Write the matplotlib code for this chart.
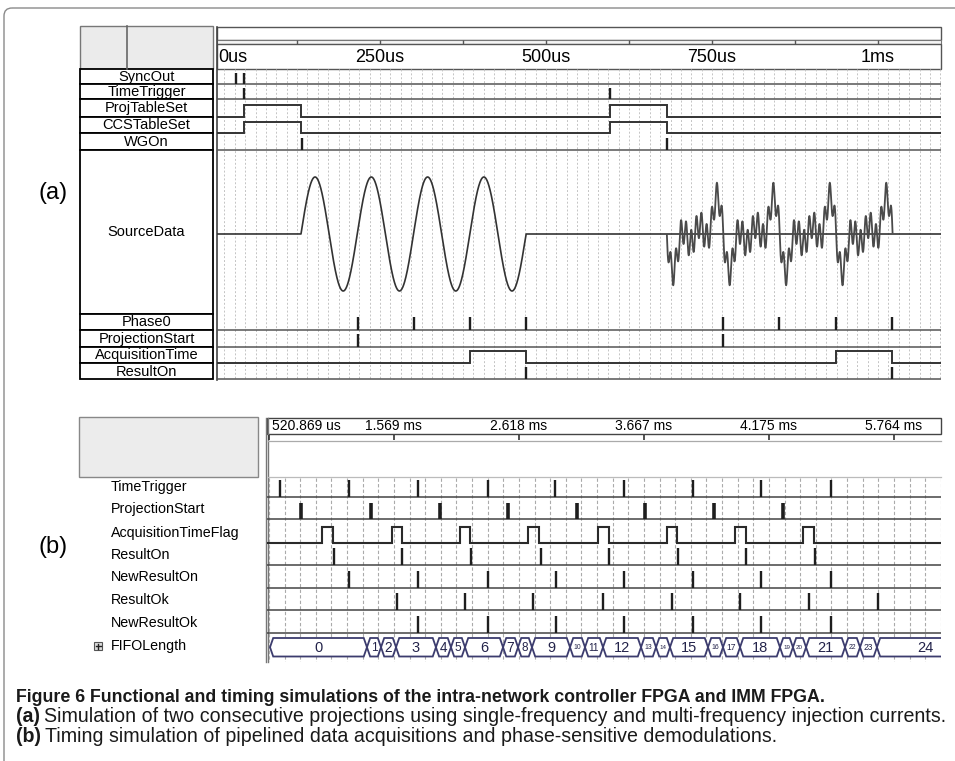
import numpy as np
import matplotlib
matplotlib.use("Agg")
import matplotlib.pyplot as plt
from matplotlib import font_manager
from matplotlib.patches import Rectangle, Polygon, FancyBboxPatch

W, H = 955, 761

# ---------------- panel (a): functional simulation, times in us ----------------
a_names = ["SyncOut", "TimeTrigger", "ProjTableSet", "CCSTableSet", "WGOn",
           "SourceData", "Phase0", "ProjectionStart", "AcquisitionTime", "ResultOn"]
a_minor_ticks = [125, 250, 375, 500, 625, 750, 875, 1000]
a_label_us = [0, 250, 500, 750, 1000]
a_label_txt = ["0us", "250us", "500us", "750us", "1ms"]

sync_out = [33, 45]
time_trigger_a = [45, 596]
proj_table_set = [(45, 131), (596, 682)]
ccs_table_set = [(45, 131), (596, 682)]
wg_on = [132, 682]
single_freq = (131, 470)          # start / end of the single-frequency burst
single_cycles = 4
multi_freq = (682, 1022)          # start / end of the multi-frequency burst
multi_cycles = 4
multi_harmonics = [1, 2, 3, 11]
multi_weights = [1.0, 1.0, 1.0, 0.9]
multi_peak = 0.9                  # relative to the single-frequency amplitude
phase0 = [217, 301, 386, 470, 767, 851, 937, 1021]
projection_start_a = [217, 767]
acquisition_time = [(386, 470), (937, 1021)]
result_on_a = [470, 1021]

# ---------------- panel (b): timing simulation, times in ms ----------------
b_names = ["TimeTrigger", "ProjectionStart", "AcquisitionTimeFlag", "ResultOn",
           "NewResultOn", "ResultOk", "NewResultOk", "FIFOLength"]
b_start_label = "520.869 us"
b_tick_ms = [1.569, 2.618, 3.667, 4.716, 5.765]
b_tick_txt = ["1.569 ms", "2.618 ms", "3.667 ms", "4.175 ms", "5.764 ms"]

time_trigger_b = [0.613, 1.192, 1.771, 2.359, 2.921, 3.500, 4.079, 4.650, 5.237]
projection_start_b = [0.790, 1.377, 1.956, 2.527, 3.106, 3.676, 4.255, 4.834]
acq_flag = [(0.966, 1.058), (1.553, 1.637), (2.124, 2.208), (2.695, 2.787),
            (3.282, 3.374), (3.861, 3.945), (4.432, 4.524), (5.002, 5.095)]
result_on_b = [1.066, 1.637, 2.216, 2.804, 3.374, 3.953, 4.524, 5.103]
new_result_on = [1.192, 1.771, 2.359, 2.930, 3.500, 4.079, 4.650, 5.237]
result_ok = [1.595, 2.166, 2.736, 3.324, 3.903, 4.474, 5.053, 5.632]
new_result_ok = [1.771, 2.359, 2.930, 3.500, 4.079, 4.650, 5.237]
fifo_changes = [1.343, 1.461, 1.587, 1.922, 2.048, 2.166, 2.485, 2.611, 2.728,
                3.047, 3.173, 3.324, 3.643, 3.769, 3.886, 4.205, 4.331, 4.474,
                4.809, 4.918, 5.028, 5.355, 5.481, 5.623]
fifo_values = list(range(25))

installed = {f.name for f in font_manager.fontManager.ttflist}
SANS = "Liberation Sans"
CAPF = "Liberation Sans Narrow" if "Liberation Sans Narrow" in installed else "Liberation Sans"

# px -> time mappings (layout)
A_PX0, A_PXUS = 214.0, 0.664
B_PX0, B_T0, B_PXMS = 269.0, 0.521, 119.16


def a_t(px):
    return (px - A_PX0) / A_PXUS


def b_t(px):
    return B_T0 + (px - B_PX0) / B_PXMS


fig = plt.figure(figsize=(W / 100, H / 100), dpi=100)
bg = fig.add_axes([0, 0, 1, 1])
bg.set_xlim(0, W)
bg.set_ylim(H, 0)
bg.axis("off")


def px_axes(x0, y0, x1, y1):
    ax = fig.add_axes([x0 / W, 1 - y1 / H, (x1 - x0) / W, (y1 - y0) / H])
    ax.set_ylim(y1, y0)
    ax.axis("off")
    return ax


def rect(x0, y0, x1, y1, fc="white", ec="#444", lw=1.0, z=1):
    bg.add_patch(Rectangle((x0, y0), x1 - x0, y1 - y0, facecolor=fc,
                           edgecolor=ec, lw=lw, zorder=z))


def pulses(ax, times, base, h, lw=1.7, color="#1e1e1e", bcol="#555"):
    x0, x1 = ax.get_xlim()
    ax.hlines(base, x0, x1, color=bcol, lw=1.1, zorder=3)
    ax.vlines(times, base - h, base, color=color, lw=lw, zorder=4)


def levels(ax, spans, low, high, lw=1.4, color="#333"):
    x0, x1 = ax.get_xlim()
    xs, ys = [x0], [low]
    for s, e in spans:
        xs += [s, s, e, e]
        ys += [low, high, high, low]
    xs.append(x1)
    ys.append(low)
    ax.plot(xs, ys, color=color, lw=lw, zorder=3, solid_joinstyle="miter")


# outer frame of the figure page
bg.add_patch(FancyBboxPatch((4, 8), 1000, 800, boxstyle="round,pad=0,rounding_size=8",
                            facecolor="none", edgecolor="#8a8a8a", lw=1.0))

# ================= panel (a) =================
a_edges = [69, 84, 99, 116.5, 133, 150, 314, 330, 346.5, 363, 379]
rect(80, 26, 213, 69, fc="#ebebeb", ec="#777")
bg.plot([127, 127], [26, 69], color="#666", lw=1.2)
for i, name in enumerate(a_names):
    rect(80, a_edges[i], 213, a_edges[i + 1], ec="black", lw=1.3)
    bg.text(146.5, (a_edges[i] + a_edges[i + 1]) / 2 + 0.5, name, ha="center",
            va="center", fontsize=10.5, family=SANS)
bg.text(53, 193, "(a)", ha="center", va="center", fontsize=17, family=SANS)

# ruler
rect(217, 26.5, 941, 39.5, ec="#555")
rect(217, 39.5, 941, 43.5, fc="#f4f4f4", ec="#777", lw=0.8)
rect(217, 43.5, 941, 69, ec="#555")
bg.plot([217, 217], [26.5, 380], color="#444", lw=1.2, zorder=2)
ra = px_axes(217, 26, 941, 69)
ra.set_xlim(a_t(217), a_t(941))
ra.vlines(a_minor_ticks, 39.5, 43.5, color="#555", lw=1.0)
for t, s in zip(a_label_us, a_label_txt):
    if t == 0:
        ra.text(a_t(218), 57, s, ha="left", va="center", fontsize=13, family=SANS)
    else:
        ra.text(t, 57, s, ha="center", va="center", fontsize=13, family=SANS)

axa = px_axes(217, 69, 941, 380)
axa.set_xlim(a_t(217), a_t(941))
xa0, xa1 = axa.get_xlim()
axa.vlines(np.arange(0, xa1, 15.625), 69, 380, color="#c4c4c4",
           linestyles=(0, (2, 2)), lw=0.7, zorder=1)

pulses(axa, sync_out, 84, 11)
pulses(axa, time_trigger_a, 99, 11)
levels(axa, proj_table_set, 116.5, 105)
levels(axa, ccs_table_set, 133, 121.5)
pulses(axa, wg_on, 150, 12)
pulses(axa, phase0, 330, 13)
pulses(axa, projection_start_a, 346.5, 13)
levels(axa, acquisition_time, 363, 351)
pulses(axa, result_on_a, 379, 12)

# SourceData waveform
t = np.linspace(xa0, xa1, 12000)
y = np.zeros_like(t)
s0, s1 = single_freq
m = (t >= s0) & (t <= s1)
y[m] = np.sin(2 * np.pi * single_cycles * (t[m] - s0) / (s1 - s0))
m0, m1 = multi_freq
mm = (t >= m0) & (t <= m1)
ph = multi_cycles * (t[mm] - m0) / (m1 - m0)
sig = -sum(w * np.sin(2 * np.pi * k * ph) for k, w in zip(multi_harmonics, multi_weights))
y[mm] = sig / np.abs(sig).max() * multi_peak
axa.plot(t[~mm], np.where(m, 234 - 57 * y, 234)[~mm], color="#333", lw=1.2, zorder=3)
axa.plot(t[mm], 234 - 57 * y[mm], color="#4a4a4a", lw=1.3, zorder=3)

# ================= panel (b) =================
rect(79, 417, 258, 477, fc="#ececec", ec="#888")
bg.text(53, 547, "(b)", ha="center", va="center", fontsize=17, family=SANS)
b_base = [497, 519, 542.7, 565, 587.7, 610, 632.7]
b_label_y = [487, 509, 533, 555, 577, 600, 623, 646]
for name, yy in zip(b_names, b_label_y):
    bg.text(111, yy, name, ha="left", va="center", fontsize=10.3, family=SANS)
rect(94, 642, 102, 650, fc="#dcdcdc", ec="#555", lw=0.8)
bg.plot([95.5, 100.5], [646, 646], color="#222", lw=1.0)
bg.plot([98, 98], [643.5, 648.5], color="#222", lw=1.0)

rect(267, 418, 941, 434, ec="#444")
bg.plot([265.5, 265.5], [418, 662], color="#777", lw=1.0)
bg.plot([268, 268], [418, 662], color="#777", lw=1.0)
bg.plot([268, 941], [441, 441], color="#aaa", lw=0.9)
bg.plot([268, 941], [477, 477], color="#bbb", lw=0.9)

rb = px_axes(267, 418, 941, 477)
rb.set_xlim(b_t(267), b_t(941))
rb.vlines([B_T0] + b_tick_ms, 435, 440, color="#333", lw=1.2)
rb.text(b_t(272), 426, b_start_label, ha="left", va="center", fontsize=10, family=SANS)
for tk, s in zip(b_tick_ms, b_tick_txt):
    rb.text(tk, 426, s, ha="center", va="center", fontsize=10, family=SANS)

axb = px_axes(267, 477, 941, 662)
axb.set_xlim(b_t(267), b_t(941))
xb0, xb1 = axb.get_xlim()
axb.vlines(np.arange(B_T0, xb1, 1.049 / 8), 478, 662, color="#aaaaaa",
           linestyles=(0, (3, 2)), lw=0.8, zorder=1)

pulses(axb, time_trigger_b, b_base[0], 17, bcol="#444")
pulses(axb, projection_start_b, b_base[1], 16, lw=2.6, bcol="#444")
levels(axb, acq_flag, b_base[2], 527, lw=1.5, color="#2a2a2a")
pulses(axb, result_on_b, b_base[3], 17, bcol="#444")
pulses(axb, new_result_on, b_base[4], 17, bcol="#444")
pulses(axb, result_ok, b_base[5], 17, bcol="#444")
pulses(axb, new_result_ok, b_base[6], 17, bcol="#444")

# FIFOLength bus
top, bot = 638, 656.5
mid = (top + bot) / 2
d = 3.2 / B_PXMS
edges = [b_t(270)] + fifo_changes + [xb1 + 0.2]
bus_texts = []
for i, v in enumerate(fifo_values):
    s, e = edges[i], edges[i + 1]
    poly = Polygon([(s, mid), (s + d, top), (e - d, top), (e, mid), (e - d, bot),
                    (s + d, bot)], closed=True, facecolor="white",
                   edgecolor="#3c3c6e", lw=1.3, zorder=3)
    axb.add_patch(poly)
    if i == len(fifo_values) - 1:
        txt = axb.text(b_t(934), mid + 0.5, str(v), ha="right", va="center",
                       fontsize=10.5, color="#23234a", family=SANS, zorder=4)
    else:
        txt = axb.text((s + e) / 2, mid + 0.5, str(v), ha="center", va="center",
                       fontsize=10.5, color="#23234a", family=SANS, zorder=4)
        bus_texts.append((txt, (e - s) * B_PXMS - 2 * 3.2 - 1))
    txt.set_clip_path(poly)

# ================= caption =================
cap1 = bg.text(16, 702, "Figure 6 Functional and timing simulations of the intra-network "
               "controller FPGA and IMM FPGA.", ha="left", va="baseline",
               fontsize=12, fontweight="bold", family=CAPF, color="#1a1a1a")
ta = bg.text(16, 722, "(a)", ha="left", va="baseline", fontsize=11.5,
             fontweight="bold", family=CAPF, color="#1a1a1a")
tb = bg.text(16, 742, "(b)", ha="left", va="baseline", fontsize=11.5,
             fontweight="bold", family=CAPF, color="#1a1a1a")
ra_txt = bg.text(40, 722, "Simulation of two consecutive projections using single-frequency "
                 "and multi-frequency injection currents.", ha="left", va="baseline",
                 fontsize=11.5, family=CAPF, color="#1a1a1a")
rb_txt = bg.text(40, 742, "Timing simulation of pipelined data acquisitions and "
                 "phase-sensitive demodulations.", ha="left", va="baseline",
                 fontsize=11.5, family=CAPF, color="#1a1a1a")

fig.canvas.draw()
r = fig.canvas.get_renderer()
w1 = cap1.get_window_extent(r).width
cap1.set_fontsize(cap1.get_fontsize() * (818 - 16) / w1)
wa = ta.get_window_extent(r).width
wr = ra_txt.get_window_extent(r).width
k = (947 - 16) / (wa + 4 + wr)
for tt in (ta, tb, ra_txt, rb_txt):
    tt.set_fontsize(tt.get_fontsize() * k)
# shrink bus values that do not fit in their segment
for txt, avail in bus_texts:
    w = txt.get_window_extent(r).width
    if w > avail:
        txt.set_fontsize(max(4.5, txt.get_fontsize() * max(avail, 1) / w))
fig.canvas.draw()
wa = ta.get_window_extent(r).width
ra_txt.set_x(16 + wa + 4)
rb_txt.set_x(16 + tb.get_window_extent(r).width + 4)

fig.savefig("out.png", dpi=100)
